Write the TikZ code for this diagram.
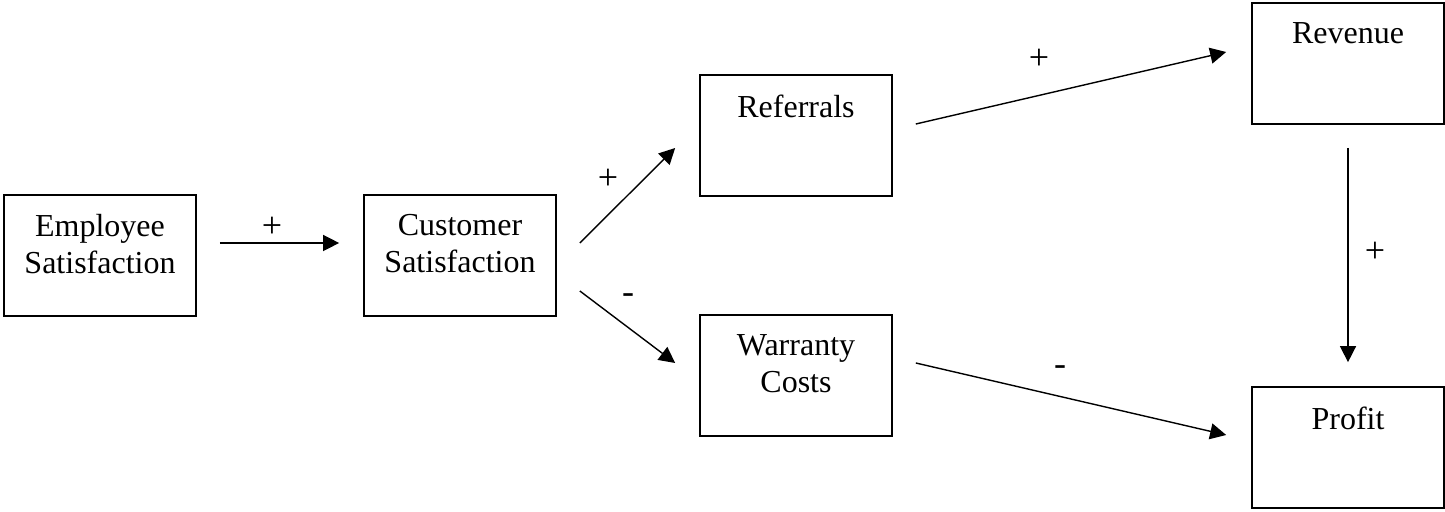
\documentclass[tikz,border=0pt]{standalone}
\usepackage{fontspec}
\setmainfont{Liberation Serif}
\usetikzlibrary{arrows.meta}
\begin{document}
\begin{tikzpicture}[x=0.5pt, y=-0.5pt,
    box/.style={draw, line width=0.85pt, minimum width=96pt, minimum height=60.5pt, inner sep=0pt},
    boxtext/.style={anchor=north, inner sep=0pt, align=center, yshift=-10.1pt,
      font=\fontsize{16}{18.2}\selectfont},
    sign/.style={inner sep=0pt, font=\fontsize{18}{20}\selectfont},
    arr/.style={line width=0.7pt, -{Triangle[length=8pt, width=8pt]}}]
  \useasboundingbox (0, 0) rectangle (1445, 512);
  \node[box] (emp) at (100, 255.5) {};
  \node[box] (cust) at (460, 255.5) {};
  \node[box] (ref) at (796, 135.5) {};
  \node[box] (war) at (796, 375.5) {};
  \node[box] (rev) at (1348, 63.5) {};
  \node[box] (prof) at (1348, 447.5) {};
  \node[boxtext] (emptext) at (emp.north) {Employee\\Satisfaction};
  \node[boxtext] (custtext) at (cust.north) {Customer\\Satisfaction};
  \node[boxtext] (reftext) at (ref.north) {Referrals};
  \node[boxtext] (wartext) at (war.north) {Warranty\\Costs};
  \node[boxtext] (revtext) at (rev.north) {Revenue};
  \node[boxtext] (proftext) at (prof.north) {Profit};
  \draw[arr] ([shift={(23, -12.5)}]emp.east) -- ([shift={(-24, -12.5)}]cust.west);
  \draw[arr] ([shift={(23, -12.5)}]cust.east) -- ([shift={(-24, 12.5)}]ref.west);
  \draw[arr] ([shift={(23, 35.5)}]cust.east) -- ([shift={(-24, -12.5)}]war.west);
  \draw[arr] ([shift={(23, -11.5)}]ref.east) -- ([shift={(-25, -11.5)}]rev.west);
  \draw[arr] ([shift={(23, -12.5)}]war.east) -- ([shift={(-25, -12.5)}]prof.west);
  \draw[arr] ([yshift=-11.5pt]rev.south) -- ([yshift=12pt]prof.north);
  \node[sign] (s1) at (272, 227) {+};
  \node[sign] (s2) at (608, 179) {+};
  \node[sign] (s3) at (628, 299) {-};
  \node[sign] (s4) at (1039, 59) {+};
  \node[sign] (s5) at (1060, 371) {-};
  \node[sign] (s6) at (1375, 252) {+};
\end{tikzpicture}
\end{document}
